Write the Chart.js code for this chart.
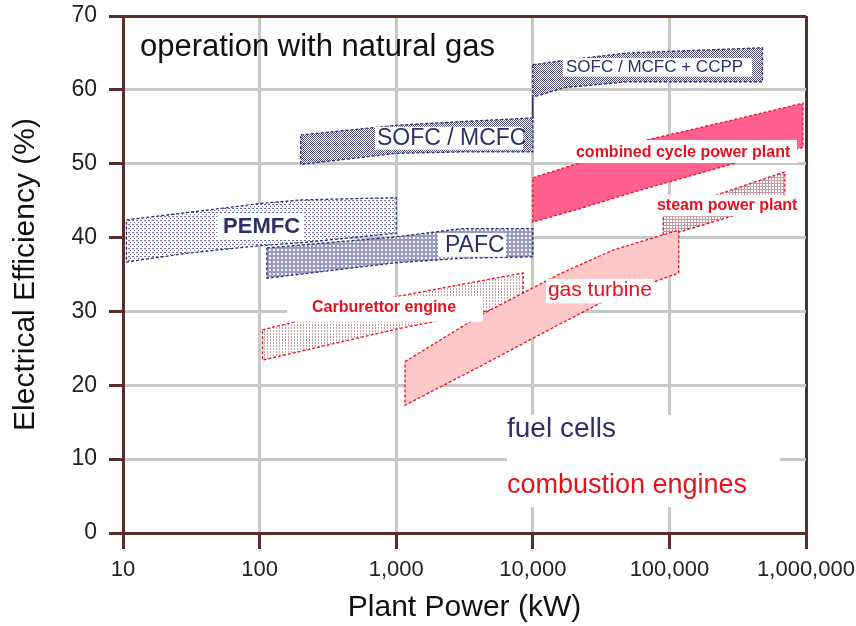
<!DOCTYPE html>
<html>
<head>
<meta charset="utf-8">
<script src="https://cdn.jsdelivr.net/npm/chart.js@4/dist/chart.umd.min.js"></script>
<style>
  html, body { margin: 0; padding: 0; background: #fff; }
</style>
</head>
<body>
<canvas id="chart" width="856" height="626"></canvas>
<script>
'use strict';

// ── Axis ticks ────────────────────────────────────────────────────────────────
const X_TICKS = [10, 100, 1000, 10000, 100000, 1000000];
const Y_TICKS = [0, 10, 20, 30, 40, 50, 60, 70];

// ── Bands: plant power (kW) vs upper / lower efficiency (%) ──────────────────
// fuel cells
const PEMFC_X      = [10.6, 30, 100, 200, 1000];
const PEMFC_TOP    = [42.4, 43.4, 44.6, 45.1, 45.4];
const PEMFC_BOTTOM = [36.7, 37.9, 38.9, 39.3, 40.6];

const PAFC_X      = [113, 1000, 3000, 10000];
const PAFC_TOP    = [38.6, 40.1, 41.2, 41.2];
const PAFC_BOTTOM = [34.5, 36.6, 37.2, 37.4];

const SOFC_X      = [200, 1000, 3000, 10000];
const SOFC_TOP    = [53.9, 55.2, 55.7, 56.2];
const SOFC_BOTTOM = [49.9, 51.4, 51.6, 51.6];

const CCPP_X      = [10000, 17000, 50000, 480000];
const CCPP_TOP    = [63.4, 64.0, 65.0, 65.7];
const CCPP_BOTTOM = [59.0, 60.3, 61.1, 61.1];

const LINK_X = [10000, 10000];
const LINK_Y = [56.2, 59.0];

// combustion engines
const CARB_X      = [105, 200, 1000, 3300, 8500];
const CARB_TOP    = [27.5, 28.8, 32.0, 33.8, 35.2];
const CARB_BOTTOM = [23.4, 24.6, 27.6, 29.5, 31.1];

const GT_X      = [1160, 4250, 15800, 38600, 117000];
const GT_TOP    = [23.2, 29.6, 35.1, 38.3, 41.0];
const GT_BOTTOM = [17.3, 22.7, 28.3, 32.0, 35.2];

const STEAM_X      = [90000, 216000, 700000];
const STEAM_TOP    = [43.5, 45.7, 48.9];
const STEAM_BOTTOM = [40.1, 42.2, 45.1];

const CC_X      = [10000, 22000, 58000, 320000, 950000];
const CC_TOP    = [48.1, 50.1, 52.9, 56.1, 58.2];
const CC_BOTTOM = [42.1, 43.9, 46.3, 50.2, 52.2];

// ── Colours / fonts ───────────────────────────────────────────────────────────
const NAVY  = '#2f2f66';
const RED   = '#e8101e';
const BROWN = '#5c2b2b';
const GRID  = '#c8c8c8';
const SANS  = "'Liberation Sans', Arial, sans-serif";
const NARROW = "'Liberation Sans Narrow', 'Liberation Sans', Arial, sans-serif";

// ── Text annotations (data coords) ───────────────────────────────────────────
const BOXES = [
  { x0: 159,   x1: 4320,   y0: 28.6, y1: 32.0 },  // Carburettor engine
  { x0: 19700, x1: 859000, y0: 50.1, y1: 53.2 },  // combined cycle
  { x0: 72100, x1: 984000, y0: 42.9, y1: 45.8 },  // steam
  { x0: 12500, x1: 75900,  y0: 31.1, y1: 34.4 },  // gas turbine
  { x0: 2020,  x1: 6370,   y0: 37.4, y1: 40.6 },  // PAFC
  { x0: 700,   x1: 8470,   y0: 51.9, y1: 55.0 },  // SOFC / MCFC
  { x0: 49,    x1: 208,    y0: 39.7, y1: 43.3 },  // PEMFC
  { x0: 16600, x1: 403000, y0: 61.8, y1: 64.3 },  // SOFC + CCPP
  { x0: 6470,  x1: 646000, y0: 3.5,  y1: 16.0 },  // legend texts
];

const LABELS = [
  { text: 'operation with natural gas', x: 13.3,  y: 65.8, font: '31px ' + SANS, color: '#111' },
  { text: 'SOFC / MCFC + CCPP',         x: 17500, y: 63.0, font: '17px ' + SANS, color: NAVY },
  { text: 'SOFC / MCFC',                x: 723,   y: 53.4, font: '23px ' + SANS, color: NAVY },
  { text: 'PEMFC',                      x: 54,    y: 41.4, font: 'bold 22px ' + SANS, color: NAVY },
  { text: 'PAFC',                       x: 2275,  y: 38.9, font: '23px ' + SANS, color: NAVY },
  { text: 'combined cycle power plant', x: 20700, y: 51.5, font: 'bold 16px ' + SANS, color: RED },
  { text: 'steam power plant',          x: 81100, y: 44.3, font: 'bold 16px ' + SANS, color: RED },
  { text: 'Carburettor engine',         x: 242,   y: 30.5, font: 'bold 16px ' + SANS, color: RED },
  { text: 'gas turbine',                x: 12900, y: 32.9, font: '21px ' + SANS, color: RED },
  { text: 'fuel cells',                 x: 6470,  y: 14.0, font: '28px ' + SANS, color: NAVY },
  { text: 'combustion engines',         x: 6470,  y: 6.4,  font: '27px ' + SANS, color: RED },
];

// ── Patterns ──────────────────────────────────────────────────────────────────
const canvas = document.getElementById('chart');
const mainCtx = canvas.getContext('2d');

function pattern(size, bg, fg, cells) {
  const c = document.createElement('canvas');
  c.width = c.height = size;
  const g = c.getContext('2d');
  g.fillStyle = bg;
  g.fillRect(0, 0, size, size);
  g.fillStyle = fg;
  cells.forEach(([x, y, w, h]) => g.fillRect(x, y, w || 1, h || 1));
  return mainCtx.createPattern(c, 'repeat');
}

const PAT_PEMFC = pattern(4, '#ffffff', '#6e6e9c', [[0, 0], [2, 2], [1, 0]]);
const PAT_PAFC  = pattern(4, '#9a9ac8', '#ffffff', [[1, 1, 2, 2]]);
const PAT_SOFC  = pattern(2, '#ffffff', '#50507e', [[0, 0], [1, 1]]);
const PAT_CARB  = pattern(3, '#ffffff', '#c4a0a6', [[0, 0, 1, 2]]);
const PAT_STEAM = pattern(3, '#ffffff', '#c09aa0', [[0, 0, 3, 1], [0, 0, 1, 3]]);

// ── Dataset builders ─────────────────────────────────────────────────────────
function band(xs, top, bottom, fill, border) {
  const pts = xs.map((x, i) => ({ x, y: top[i] }));
  for (let i = xs.length - 1; i >= 0; i--) pts.push({ x: xs[i], y: bottom[i] });
  pts.push(pts[0]);
  return {
    data: pts,
    showLine: true,
    fill: 'shape',
    backgroundColor: fill,
    borderColor: border,
    borderWidth: 1.3,
    borderDash: [3, 2],
    pointRadius: 0,
    tension: 0,
  };
}

// bottom-most first
const datasets = [
  band(PEMFC_X, PEMFC_TOP, PEMFC_BOTTOM, PAT_PEMFC, NAVY),
  band(PAFC_X, PAFC_TOP, PAFC_BOTTOM, PAT_PAFC, NAVY),
  band(SOFC_X, SOFC_TOP, SOFC_BOTTOM, PAT_SOFC, NAVY),
  band(CCPP_X, CCPP_TOP, CCPP_BOTTOM, PAT_SOFC, NAVY),
  {
    data: LINK_X.map((x, i) => ({ x, y: LINK_Y[i] })),
    showLine: true, fill: false, borderColor: NAVY, borderWidth: 1.5, pointRadius: 0,
  },
  band(CARB_X, CARB_TOP, CARB_BOTTOM, PAT_CARB, RED),
  band(STEAM_X, STEAM_TOP, STEAM_BOTTOM, PAT_STEAM, RED),
  band(GT_X, GT_TOP, GT_BOTTOM, '#ffc8c8', RED),
  band(CC_X, CC_TOP, CC_BOTTOM, '#ff6090', RED),
].reverse(); // Chart.js paints dataset 0 last

// ── Labels plugin ─────────────────────────────────────────────────────────────
const labelsPlugin = {
  id: 'labels',
  afterDatasetsDraw(chart) {
    const { ctx, scales: { x, y } } = chart;
    ctx.save();
    ctx.fillStyle = '#ffffff';
    BOXES.forEach(b => {
      const px0 = x.getPixelForValue(b.x0), px1 = x.getPixelForValue(b.x1);
      const py0 = y.getPixelForValue(b.y1), py1 = y.getPixelForValue(b.y0);
      ctx.fillRect(px0, py0, px1 - px0, py1 - py0);
    });
    ctx.textAlign = 'left';
    ctx.textBaseline = 'middle';
    LABELS.forEach(l => {
      ctx.font = l.font;
      ctx.fillStyle = l.color;
      ctx.fillText(l.text, x.getPixelForValue(l.x), y.getPixelForValue(l.y));
    });
    ctx.restore();
  },
};

new Chart(canvas, {
  type: 'scatter',
  data: { datasets },
  plugins: [labelsPlugin],
  options: {
    responsive: false,
    animation: false,
    layout: { padding: { top: 16, right: 50, bottom: 0, left: 0 } },
    plugins: { legend: { display: false }, tooltip: { enabled: false } },
    scales: {
      x: {
        type: 'logarithmic',
        min: 10,
        max: 1000000,
        afterBuildTicks: s => { s.ticks = X_TICKS.map(v => ({ value: v })); },
        // fixed plot frame: axis band height, no label overflow padding
        afterFit: s => { s.height = 93; s.paddingLeft = 0; s.paddingRight = 0; },
        ticks: {
          autoSkip: false,
          maxRotation: 0,
          padding: 8,
          color: '#222',
          font: { family: SANS, size: 22 },
          callback: v => Number(v).toLocaleString('en-US'),
        },
        grid: {
          color: c => (c.tick && c.tick.value === 1000000 ? BROWN : GRID),
          lineWidth: 3,
          tickColor: BROWN,
          tickWidth: 3,
          tickLength: 16,
        },
        border: { color: BROWN, width: 3 },
        title: {
          display: true,
          text: 'Plant Power (kW)',
          color: '#111',
          font: { family: SANS, size: 30 },
          padding: { top: 0, bottom: 0 },
        },
      },
      y: {
        min: 0,
        max: 70,
        afterBuildTicks: s => { s.ticks = Y_TICKS.map(v => ({ value: v })); },
        afterFit: s => { s.width = 123; s.paddingTop = 0; s.paddingBottom = 0; },
        ticks: {
          padding: 12,
          color: '#222',
          font: { family: NARROW, size: 23 },
        },
        grid: {
          color: c => (c.tick && c.tick.value === 70 ? BROWN : GRID),
          lineWidth: 3,
          tickColor: BROWN,
          tickWidth: 3,
          tickLength: 14,
        },
        border: { color: BROWN, width: 3 },
        title: {
          display: true,
          text: 'Electrical Efficiency (%)',
          color: '#111',
          font: { family: SANS, size: 30 },
          padding: { top: 8, bottom: 0 },
        },
      },
    },
  },
});
</script>
</body>
</html>
